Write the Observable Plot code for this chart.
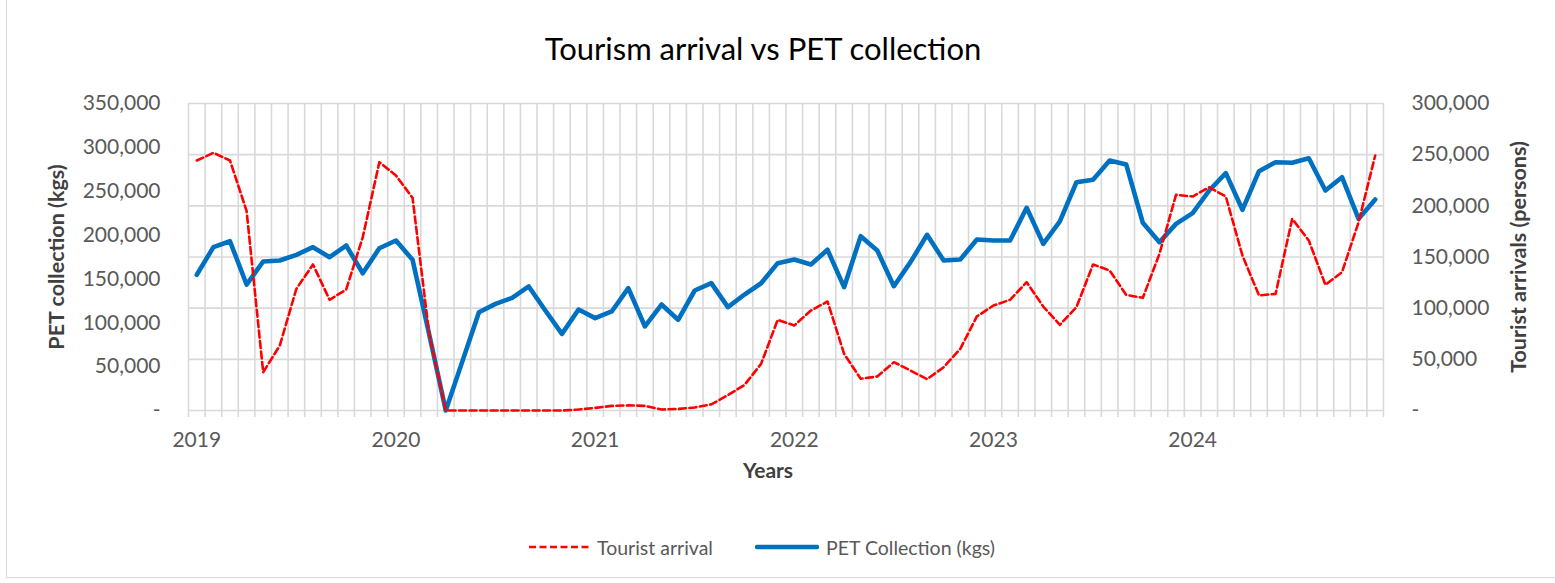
<!DOCTYPE html>
<html><head><meta charset="utf-8">
<script src="https://cdn.jsdelivr.net/npm/d3@7"></script>
<script src="https://cdn.jsdelivr.net/npm/@observablehq/plot@0.6"></script>
<style>
body{margin:0;background:#fff;}
#chart{position:relative;width:1555px;height:583px;font-family:Lato,"Open Sans",sans-serif;overflow:hidden;background:#fff;}
#frame{position:absolute;left:6px;top:-3px;width:1560px;height:581px;border:1.5px solid #d9d9d9;box-sizing:border-box;pointer-events:none;}
#title{position:relative;height:85px;width:1526px;text-align:center;line-height:96px;font-size:31px;color:#000;white-space:nowrap;}
#legend{position:absolute;top:530px;left:0;width:1555px;height:34px;font-size:19.5px;color:#595959;}
.item{position:absolute;top:0;height:34px;display:flex;align-items:center;white-space:nowrap;}
.item svg{margin-right:7px;}
</style>
</head><body>
<div id="chart">
  <div id="title">Tourism arrival vs PET collection</div>
  <div id="plot"></div>
  <div id="legend">
    <div class="item" style="left:528px"><svg width="62" height="10"><line x1="1" x2="61" y1="5" y2="5" stroke="#FF0000" stroke-width="2.5" stroke-dasharray="7,3.5"/></svg><span>Tourist arrival</span></div>
    <div class="item" style="left:755px"><svg width="64" height="10"><line x1="2" x2="62" y1="5" y2="5" stroke="#0070C0" stroke-width="4.5" stroke-linecap="round"/></svg><span>PET Collection (kgs)</span></div>
  </div>
  <div id="frame"></div>
</div>
<script>
// Years shown on the category axis (monthly data, Jan 2019 – Dec 2024)
const years = [2019, 2020, 2021, 2022, 2023, 2024];
const monthsPerYear = 12;

// PET collection (kgs), left axis
const petCollection = [
  154700, 186200, 193000, 143600, 169900, 171000, 177500, 186200, 174800, 188100, 156500, 185000,
  193800, 171800, 87000, 0, 56000, 112000, 121600, 128400, 141400, 114000, 87400, 115100,
  105300, 112900, 139500, 95800, 120800, 103400, 136800, 145200, 117800, 132200, 145100, 168000,
  172100, 166400, 183200, 140600, 198700, 182400, 141700, 169100, 200300, 171000, 172100, 194900,
  193800, 193800, 231100, 190000, 215500, 260200, 263000, 285000, 280400, 214000, 191900, 212800,
  225000, 250800, 270600, 228800, 272800, 283100, 282400, 287600, 250800, 266000, 218500, 240500
];

// Tourist arrivals (persons), right axis
const touristArrivals = [
  244300, 251800, 244300, 195000, 37400, 63500, 118900, 142700, 108200, 118200, 169400, 242700,
  229600, 207800, 75000, 0, 0, 0, 0, 0, 0, 0, 0, 1000,
  2500, 4500, 5000, 4500, 1000, 1500, 3000, 6000, 15000, 25000, 45600, 88600,
  83100, 97700, 106500, 55400, 31000, 33200, 47200, 39100, 30600, 42300, 60300, 91900,
  102600, 108200, 125400, 101600, 83700, 101000, 142700, 136800, 113000, 110100, 153100, 210800,
  209100, 218200, 209100, 151500, 112400, 114000, 187300, 166100, 122800, 135200, 184000, 249200
];

// Axis tick values
const petTicks = [0, 50000, 100000, 150000, 200000, 250000, 300000, 350000];
const touristTicks = [0, 50000, 100000, 150000, 200000, 250000, 300000];

const PET_MAX = 350000, TOUR_MAX = 300000;
const toPet = t => t * PET_MAX / TOUR_MAX;
const fmt = d => d === 0 ? "-" : d3.format(",")(d);

const n = petCollection.length;
const bandEdges = d3.range(0, n + 1).map(i => i - 0.5);
const yearIdx = years.map((y, k) => k * monthsPerYear);

const petData = petCollection.map((v, i) => ({i, v}));
const tourData = touristArrivals.map((v, i) => ({i, v: toPet(v)}));
const gridY = touristTicks.map(toPet);

const plot = Plot.plot({
  width: 1555,
  height: 415,
  marginTop: 18,
  marginBottom: 90,
  marginLeft: 188,
  marginRight: 172,
  x: {type: "linear", domain: [-0.5, n - 0.5], axis: null},
  y: {domain: [0, PET_MAX], axis: null},
  style: {fontFamily: "Lato, 'Open Sans', sans-serif", fontSize: "21px", color: "#595959", background: "white", overflow: "visible"},
  marks: [
    Plot.ruleY(gridY, {stroke: "#d9d9d9", strokeWidth: 1.6}),
    Plot.ruleX(bandEdges, {stroke: "#d9d9d9", strokeWidth: 1.6}),
    Plot.axisX(bandEdges, {tickSize: 7, tickFormat: () => "", stroke: "#d9d9d9", strokeWidth: 1.6, label: null}),
    Plot.axisX(yearIdx, {tickSize: 0, tickPadding: 22, tickFormat: i => String(years[i / monthsPerYear]), fill: "#595959", label: null}),
    Plot.axisY(petTicks, {anchor: "left", tickSize: 0, tickPadding: 28, tickFormat: fmt, fill: "#595959", label: null}),
    Plot.axisY(gridY, {anchor: "right", tickSize: 0, tickPadding: 28, tickFormat: d => fmt(Math.round(d * TOUR_MAX / PET_MAX)), fill: "#595959", label: null}),
    Plot.line(petData, {x: "i", y: "v", stroke: "#0070C0", strokeWidth: 4.6, strokeLinejoin: "round", strokeLinecap: "round"}),
    Plot.line(tourData, {x: "i", y: "v", stroke: "#FF0000", strokeWidth: 2.6, strokeDasharray: "7,3.5"}),
    Plot.text(["PET collection (kgs)"], {frameAnchor: "left", textAnchor: "middle", dx: 57 - 188, rotate: -90, fontWeight: "bold", fontSize: 21.5, fill: "#404040"}),
    Plot.text(["Tourist arrivals (persons)"], {frameAnchor: "right", textAnchor: "middle", dx: 136, rotate: -90, fontWeight: "bold", fontSize: 21.5, fill: "#404040"}),
    Plot.text(["Years"], {frameAnchor: "bottom", dx: -18, dy: 67, fontWeight: "bold", fontSize: 21, fill: "#404040"})
  ]
});
document.getElementById("plot").appendChild(plot);
</script>
</body></html>
